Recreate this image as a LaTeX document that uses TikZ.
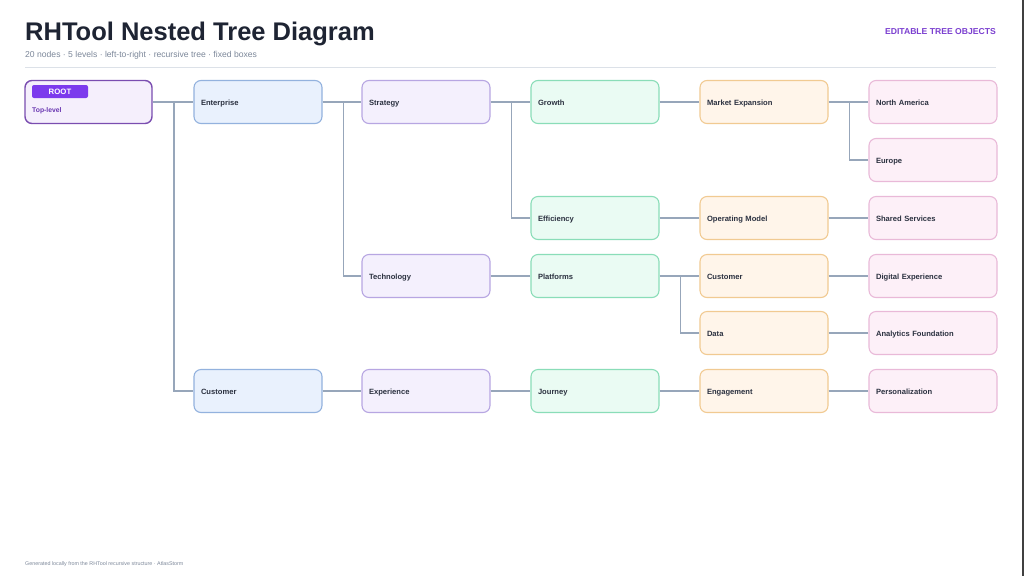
\documentclass[tikz,border=0pt]{standalone}
\usepackage{fontspec}
\setmainfont{Liberation Sans}
\begin{document}
\begin{tikzpicture}[x=1pt,y=-1pt,
  conn/.style={draw=connc, line width=1.8pt},
  tbox/.style={draw, rounded corners=7pt, minimum width=128pt, minimum height=43pt,
    line width=1.1pt, inner xsep=7pt, inner ysep=0pt, text width=114pt, align=left,
    text height=7.4pt, text depth=0pt,
    font=\fontsize{7.6}{9}\selectfont\bfseries, text=boxtext},
  lvA/.style={tbox, fill=aF, draw=aD},
  lvB/.style={tbox, fill=bF, draw=bD},
  lvC/.style={tbox, fill=cF, draw=cD},
  lvD/.style={tbox, fill=dF, draw=dD},
  lvE/.style={tbox, fill=eF, draw=eD},
]
\definecolor{connc}{HTML}{97A6BA}
\definecolor{boxtext}{HTML}{2B3140}
\definecolor{aF}{HTML}{E9F1FD}\definecolor{aD}{HTML}{93B2DE}
\definecolor{bF}{HTML}{F4F0FD}\definecolor{bD}{HTML}{B7A6E2}
\definecolor{cF}{HTML}{EAFBF3}\definecolor{cD}{HTML}{8ADDB8}
\definecolor{dF}{HTML}{FFF5EA}\definecolor{dD}{HTML}{F1CA92}
\definecolor{eF}{HTML}{FDF0F8}\definecolor{eD}{HTML}{E9B9D8}
\definecolor{rootF}{HTML}{F5EFFC}\definecolor{rootD}{HTML}{7A4DB0}
\definecolor{badge}{HTML}{7C3AED}
\definecolor{titlec}{HTML}{1E2433}
\definecolor{subc}{HTML}{7D889A}
\definecolor{accent}{HTML}{7B3FD0}
\definecolor{rulec}{HTML}{DCE1E8}

\useasboundingbox (0,0) rectangle (1024,576);
\fill[white] (0,0) rectangle (1024,576);
\draw[line width=1.8pt, draw=black!75] (1023,0) -- (1023,576);

% header
\node[anchor=base west, inner sep=0, font=\fontsize{25.5}{30}\selectfont\bfseries, text=titlec] (title) at (25,40) {RHTool Nested Tree Diagram};
\node[anchor=base west, inner sep=0, font=\fontsize{8.6}{10}\selectfont, text=subc] (sub) at (25,57) {20 nodes · 5 levels · left-to-right · recursive tree · fixed boxes};
\node[anchor=base east, inner sep=0, font=\fontsize{8.6}{10}\selectfont\bfseries, text=accent] (edit) at (996,34) {EDITABLE TREE OBJECTS};
\draw[rulec, line width=0.8pt] (25,67) -- (996,67);

% root
\node[draw=rootD, fill=rootF, rounded corners=7pt, line width=1.4pt, minimum width=127pt, minimum height=43pt, inner sep=0] (root) at (88.5,102) {};
\node[fill=badge, rounded corners=2pt, minimum width=56pt, minimum height=13pt, inner sep=0, text=white, font=\fontsize{7.8}{9}\selectfont\bfseries] (badge) at (60,91.5) {ROOT};
\node[anchor=base west, inner sep=0, text=accent!85!black, font=\fontsize{6.8}{8}\selectfont\bfseries] (toplevel) at (32,112.5) {Top-level};

% level 1
\node[lvA] (ent) at (258,102) {Enterprise};
\node[lvA] (cus1) at (258,391) {Customer};
% level 2
\node[lvB] (str) at (426,102) {Strategy};
\node[lvB] (tec) at (426,276) {Technology};
\node[lvB] (exp) at (426,391) {Experience};
% level 3
\node[lvC] (gro) at (595,102) {Growth};
\node[lvC] (eff) at (595,218) {Efficiency};
\node[lvC] (pla) at (595,276) {Platforms};
\node[lvC] (jou) at (595,391) {Journey};
% level 4
\node[lvD] (mar) at (764,102) {Market Expansion};
\node[lvD] (opm) at (764,218) {Operating Model};
\node[lvD] (cus4) at (764,276) {Customer};
\node[lvD] (dat) at (764,333) {Data};
\node[lvD] (eng) at (764,391) {Engagement};
% level 5
\node[lvE] (nam) at (933,102) {North America};
\node[lvE] (eur) at (933,160) {Europe};
\node[lvE] (shs) at (933,218) {Shared Services};
\node[lvE] (dig) at (933,276) {Digital Experience};
\node[lvE] (ana) at (933,333) {Analytics Foundation};
\node[lvE] (per) at (933,391) {Personalization};

% connectors
\path (root.east) ++(21,0) coordinate (b0);
\draw[conn] (root.east) -- (ent.west);
\draw[conn] (b0) |- (cus1.west);
\path (ent.east) ++(21,0) coordinate (b1);
\draw[conn] (ent.east) -- (str.west);
\draw[conn] (b1) |- (tec.west);
\path (str.east) ++(21,0) coordinate (b2);
\draw[conn] (str.east) -- (gro.west);
\draw[conn] (b2) |- (eff.west);
\draw[conn] (gro.east) -- (mar.west);
\path (mar.east) ++(21,0) coordinate (b3);
\draw[conn] (mar.east) -- (nam.west);
\draw[conn] (b3) |- (eur.west);
\draw[conn] (eff.east) -- (opm.west);
\draw[conn] (opm.east) -- (shs.west);
\draw[conn] (tec.east) -- (pla.west);
\path (pla.east) ++(21,0) coordinate (b4);
\draw[conn] (pla.east) -- (cus4.west);
\draw[conn] (b4) |- (dat.west);
\draw[conn] (cus4.east) -- (dig.west);
\draw[conn] (dat.east) -- (ana.west);
\draw[conn] (cus1.east) -- (exp.west);
\draw[conn] (exp.east) -- (jou.west);
\draw[conn] (jou.east) -- (eng.west);
\draw[conn] (eng.east) -- (per.west);

% footer
\node[anchor=base west, inner sep=0, font=\fontsize{5.35}{6}\selectfont, text=subc] (foot) at (25,565) {Generated locally from the RHTool recursive structure · AtlasStorm};
\end{tikzpicture}
\end{document}
